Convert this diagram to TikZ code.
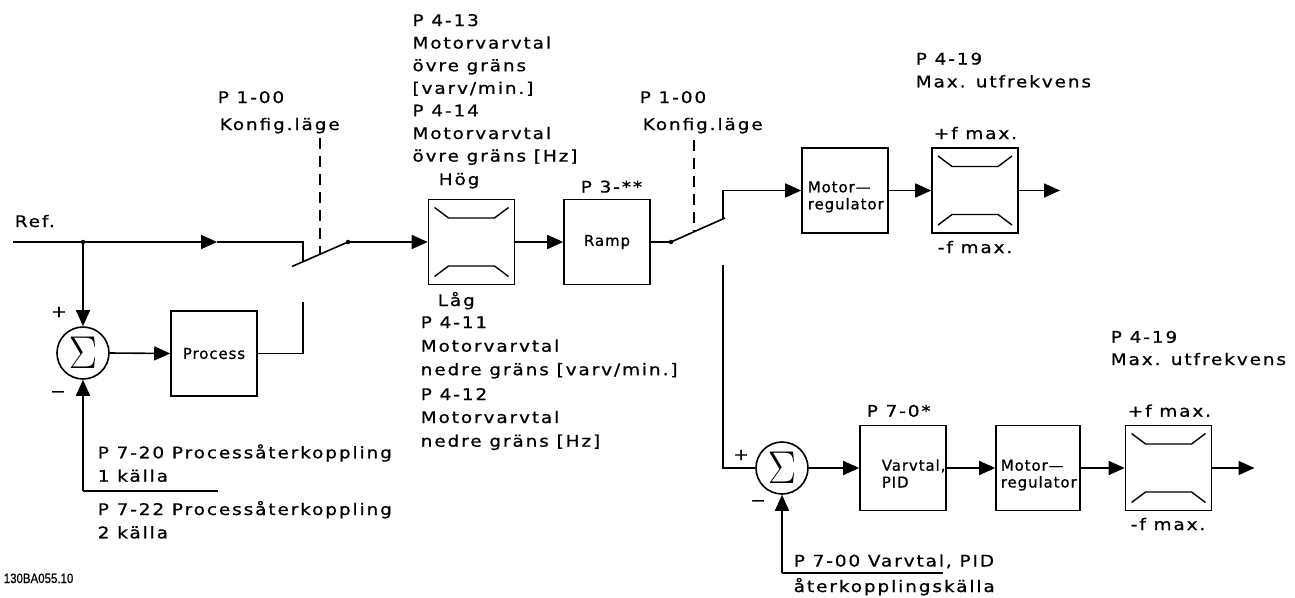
\documentclass[tikz,border=0pt]{standalone}
\usepackage{fontspec}
\newfontfamily\lblfont[FakeStretch=1.15,LetterSpace=12,FakeBold=0.8]{DejaVu Sans}
\newfontfamily\boxfont[LetterSpace=6,FakeBold=0.8]{DejaVu Sans}
\newfontfamily\codefont[FakeStretch=0.85,FakeBold=0.6]{Liberation Sans}
\usetikzlibrary{arrows.meta}
\newcommand{\sigmasym}{\scalebox{1.7}[1.85]{\fontsize{24.88}{25}\selectfont$\Sigma$}}
\begin{document}
\begin{tikzpicture}[x=1pt,y=-1pt,
  line width=1.6pt,
  lbl/.style={font=\lblfont\fontsize{16}{19}\selectfont, inner sep=0pt, anchor=base west},
  sgn/.style={font=\lblfont\fontsize{16}{19}\selectfont, inner sep=0pt, anchor=center},
  btxt/.style={font=\boxfont\fontsize{15}{17}\selectfont, inner sep=0pt, anchor=base west},
  box/.style={draw, line width=1.6pt, minimum width=86pt, minimum height=85pt, inner sep=0pt,
    font=\boxfont\fontsize{15}{17}\selectfont},
  lim/.style={box, path picture={
    \draw[line width=1.4pt]
      ([shift={(6pt,-8pt)}]path picture bounding box.north west)
      -- ([shift={(20pt,-18.5pt)}]path picture bounding box.north west)
      -- ([shift={(-20pt,-18.5pt)}]path picture bounding box.north east)
      -- ([shift={(-6pt,-8pt)}]path picture bounding box.north east);
    \draw[line width=1.4pt]
      ([shift={(6pt,8pt)}]path picture bounding box.south west)
      -- ([shift={(20pt,18.5pt)}]path picture bounding box.south west)
      -- ([shift={(-20pt,18.5pt)}]path picture bounding box.south east)
      -- ([shift={(-6pt,8pt)}]path picture bounding box.south east);}},
  sumnode/.style={draw, circle, line width=1.6pt, minimum size=52pt, inner sep=0pt},
  arr/.style={-{Triangle[length=16pt,width=14pt]}},
  jdot/.style={circle, fill, inner sep=0pt, minimum size=4.5pt},
  ctl/.style={dash pattern=on 11pt off 7pt, line width=1.4pt}
]
\fill[white] (0,0) rectangle (1295,597);
\useasboundingbox (0,0) rectangle (1295,597);

% ---------- blocks ----------
\node[box] (proc) at (214,353.5) {Process};
\node[lim] (lim1) at (471.5,242) {};
\node[box] (ramp) at (607,242) {Ramp};
\node[box] (mreg1) at (845,190.5) {};
\node[lim] (lim2) at (975,190.5) {};
\node[box] (pid) at (903,468) {};
\node[box, minimum width=84pt] (mreg2) at (1038,468) {};
\node[lim] (lim3) at (1168.5,468) {};
\node[sumnode] (s1) at (83,353) {\sigmasym};
\node[sumnode] (s2) at (782,468) {\sigmasym};

% ---------- box texts ----------
\node[btxt] (mr1a) at (807,192.3) {Motor—};
\node[btxt] (mr1b) at (807,209.3) {regulator};
\node[btxt] (mr2a) at (1000,470.7) {Motor—};
\node[btxt] (mr2b) at (1000,487.5) {regulator};
\node[btxt] (pida) at (881,470.7) {Varvtal,};
\node[btxt] (pidb) at (881,487.5) {PID};

% ---------- coordinates ----------
\coordinate (refstart) at (13,242);
\coordinate (j1) at (83,242);
\coordinate (ma1) at (217,242);
\coordinate (sw1top) at (303,242);
\coordinate (sw1a) at (303,261.7);
\coordinate (sw1l) at (292,266.5);
\coordinate (sw1r) at (348,242);
\coordinate (sw1b) at (303,302);
\coordinate (d1t) at (320,138);
\coordinate (d1b) at (320,254.3);
\coordinate (fb1c) at (83,491);
\coordinate (fb1e) at (218,491);
\coordinate (sw2l) at (671,242);
\coordinate (sw2r) at (725,218);
\coordinate (sw2u) at (723,218.9);
\coordinate (sw2d) at (723,265);
\coordinate (d2t) at (694,140);
\coordinate (d2b) at (694,231.8);
\coordinate (out1) at (1060,190.5);
\coordinate (out2) at (1254.5,468);
\coordinate (fb2c) at (782,573);
\coordinate (fb2e) at (942.6,573);

% ---------- connectors ----------
\draw[arr] (refstart) -- (ma1);
\draw (ma1) -- (sw1top) -- (sw1a);
\draw (sw1l) -- (sw1r);
\draw[ctl] (d1t) -- (d1b);
\draw (sw1b) |- (proc.east);
\draw[arr] (j1) -- (s1.north);
\draw[arr] (s1.east) -- (proc.west);
\draw (fb1e) -- (fb1c);
\draw[arr] (fb1c) -- (s1.south);
\draw[arr] (sw1r) -- (lim1.west);
\draw[arr] (lim1.east) -- (ramp.west);
\draw (ramp.east) -- (sw2l);
\draw (sw2l) -- (sw2r);
\draw[ctl] (d2t) -- (d2b);
\draw[arr] (sw2u) |- (mreg1.west);
\draw (sw2d) |- (s2.west);
\draw[arr] (mreg1.east) -- (lim2.west);
\draw[arr] (lim2.east) -- (out1);
\draw[arr] (s2.east) -- (pid.west);
\draw[arr] (pid.east) -- (mreg2.west);
\draw[arr] (mreg2.east) -- (lim3.west);
\draw[arr] (lim3.east) -- (out2);
\draw (fb2e) -- (fb2c);
\draw[arr] (fb2c) -- (s2.south);
\node[jdot] (dj1) at (j1) {};
\node[jdot] (dsw1) at (sw1r) {};
\node[jdot] (dsw2) at (sw2l) {};

% ---------- labels ----------
\node[lbl] (ref) at (14,227) {Ref.};
\node[lbl] (k1a) at (217,103) {P 1-00};
\node[lbl] (k1b) at (219,130) {Konfig.läge};
\node[lbl] (k2a) at (639,103) {P 1-00};
\node[lbl] (k2b) at (642,130) {Konfig.läge};

\node[lbl] (u1) at (411.7,26) {P 4-13};
\node[lbl] (u2) at (411.7,48.6) {Motorvarvtal};
\node[lbl] (u3) at (411.7,71.2) {övre gräns};
\node[lbl] (u4) at (411.7,93.8) {[varv/min.]};
\node[lbl] (u5) at (411.7,116.4) {P 4-14};
\node[lbl] (u6) at (411.7,139) {Motorvarvtal};
\node[lbl] (u7) at (411.7,161.6) {övre gräns [Hz]};
\node[lbl] (hog) at (438,185) {Hög};
\node[lbl] (lag) at (437,306) {Låg};
\node[lbl] (l1) at (420,328) {P 4-11};
\node[lbl] (l2) at (420,351.7) {Motorvarvtal};
\node[lbl] (l3) at (420,375.2) {nedre gräns [varv/min.]};
\node[lbl] (l4) at (420,400) {P 4-12};
\node[lbl] (l5) at (420,423) {Motorvarvtal};
\node[lbl] (l6) at (420,446.7) {nedre gräns [Hz]};
\node[lbl] (p3) at (580,192.5) {P 3-**};

\node[lbl] (m1a) at (915,64.5) {P 4-19};
\node[lbl] (m1b) at (915,87.3) {Max. utfrekvens};
\node[lbl] (f1p) at (933,139) {+f max.};
\node[lbl] (f1m) at (937,253) {-f max.};

\node[lbl] (m2a) at (1110,342.7) {P 4-19};
\node[lbl] (m2b) at (1110,365) {Max. utfrekvens};
\node[lbl] (p70) at (866,416.7) {P 7-0*};
\node[lbl] (f2p) at (1127,416.7) {+f max.};
\node[lbl] (f2m) at (1130,530) {-f max.};

\node[lbl] (fbA1) at (97,458.3) {P 7-20 Processåterkoppling};
\node[lbl] (fbA2) at (97,481.7) {1 källa};
\node[lbl] (fbB1) at (97,515) {P 7-22 Processåterkoppling};
\node[lbl] (fbB2) at (97,538.3) {2 källa};
\node[lbl] (fbC1) at (793,566.5) {P 7-00 Varvtal, PID};
\node[lbl] (fbC2) at (793,592) {återkopplingskälla};

\node[sgn] (s1p) at (59,312) {+};
\node[sgn] (s1m) at (58,394) {−};
\node[sgn] (s2p) at (741,455) {+};
\node[sgn] (s2m) at (758,503) {−};

\node[font=\codefont\fontsize{13.5}{15}\selectfont, inner sep=0pt, anchor=base west] (code) at (3,583) {130BA055.10};
\end{tikzpicture}
\end{document}
